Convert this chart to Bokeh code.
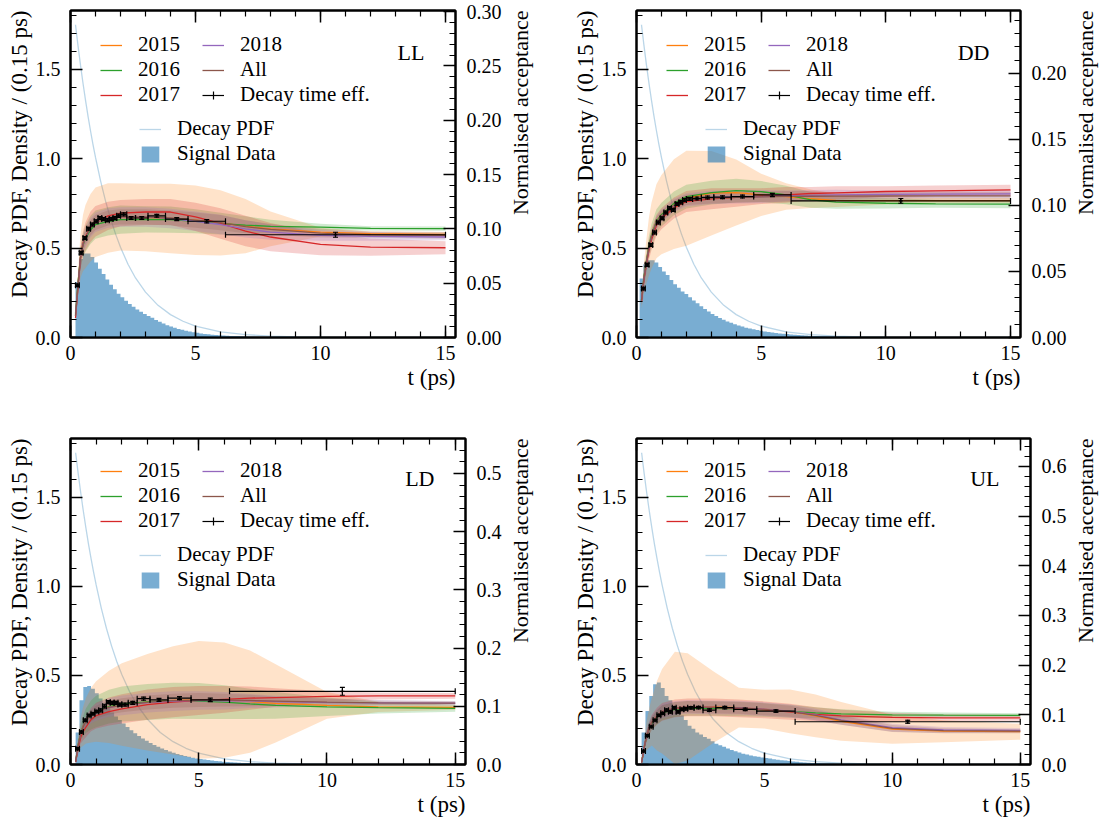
import math
import numpy as np
from bokeh.plotting import figure
from bokeh.models import (Range1d, LinearAxis, SingleIntervalTicker, PrintfTickFormatter,
                          Legend, LegendItem, Label, Title, ColumnDataSource)
from bokeh.layouts import row, column
from bokeh.embed import file_html
from bokeh.resources import INLINE

FONT = "Liberation Serif"

# ---------------------------------------------------------------- data
years = ["2015", "2016", "2017", "2018", "All"]
year_colors = ["#ff7f0e", "#2ca02c", "#d62728", "#9467bd", "#8c564b"]

# knots (ps) at which the acceptance curves / bands were read
t_knots = [0.2, 0.3, 0.4, 0.5, 0.6, 0.8, 1.0, 1.5, 2.0, 3.0, 4.0, 5.0, 6.0, 7.0, 8.0, 10.0, 12.0, 15.0]

# decay PDF (same in all panels)
pdf_t = [0.2, 0.3, 0.4, 0.5, 0.6, 0.7, 0.8, 0.9, 1.0, 1.2, 1.4, 1.6, 1.8, 2.0, 2.3, 2.6,
         3.0, 3.5, 4.0, 4.5, 5.0, 6.0, 7.0, 8.0, 9.0, 10.0, 12.0, 15.0]
pdf_val = [1.75, 1.633, 1.524, 1.423, 1.328, 1.239, 1.157, 1.080, 1.008, 0.878, 0.765, 0.666,
           0.580, 0.505, 0.410, 0.333, 0.254, 0.180, 0.128, 0.091, 0.064, 0.032, 0.016, 0.008,
           0.004, 0.002, 0.0005, 0.0]

hist_width = 0.15

# decay-time efficiency bins
eff_edges = [0.2, 0.35, 0.5, 0.65, 0.8, 0.95, 1.1, 1.25, 1.4, 1.55, 1.7, 1.85, 2.0, 2.25,
             2.6, 3.1, 3.8, 4.7, 6.2, 15.0]

# ---- LL
LL_hist_start = 0.2
LL_hist = [0.31, 0.44, 0.47, 0.47, 0.45, 0.42, 0.385, 0.355, 0.325, 0.295, 0.27, 0.245, 0.225,
           0.205, 0.188, 0.172, 0.157, 0.144, 0.132, 0.12, 0.110, 0.098, 0.088, 0.078, 0.069,
           0.061, 0.054, 0.048, 0.043, 0.038, 0.034, 0.030, 0.026, 0.023, 0.020, 0.018, 0.016,
           0.014, 0.012, 0.011, 0.0095, 0.0085, 0.0075, 0.0065, 0.0058, 0.005, 0.0045, 0.004,
           0.0035, 0.003, 0.0027, 0.0024, 0.002, 0.0018, 0.0016, 0.0014, 0.0012, 0.001, 0.001,
           0.0008, 0.0007]
LL_acc_2015 = [0.020, 0.049, 0.075, 0.087, 0.093, 0.101, 0.106, 0.110, 0.111, 0.1105, 0.1095, 0.108, 0.1055, 0.1025, 0.100, 0.097, 0.0955, 0.095]
LL_acc_2016 = [0.022, 0.050, 0.074, 0.085, 0.091, 0.099, 0.104, 0.107, 0.1085, 0.1087, 0.1085, 0.107, 0.1048, 0.1035, 0.1023, 0.1016, 0.1005, 0.1002]
LL_acc_2017 = [0.018, 0.046, 0.073, 0.086, 0.093, 0.102, 0.107, 0.112, 0.1145, 0.1155, 0.1155, 0.111, 0.105, 0.098, 0.0925, 0.0857, 0.0832, 0.0826]
LL_acc_2018 = [0.020, 0.048, 0.074, 0.086, 0.092, 0.101, 0.106, 0.110, 0.111, 0.111, 0.1095, 0.107, 0.104, 0.100, 0.097, 0.094, 0.093, 0.0925]
LL_acc_All = [0.020, 0.048, 0.074, 0.086, 0.0925, 0.101, 0.106, 0.110, 0.111, 0.111, 0.110, 0.108, 0.1057, 0.102, 0.0995, 0.096, 0.0946, 0.094]
LL_err_2015 = [0.005, 0.012, 0.02, 0.026, 0.029, 0.031, 0.032, 0.032, 0.031, 0.031, 0.032, 0.032, 0.030, 0.025, 0.016, 0.004, 0.002, 0.002]
LL_err_2016 = [0.003, 0.006, 0.009, 0.011, 0.012, 0.013, 0.013, 0.013, 0.013, 0.012, 0.012, 0.011, 0.010, 0.008, 0.006, 0.003, 0.002, 0.002]
LL_err_2017 = [0.003, 0.007, 0.010, 0.012, 0.013, 0.014, 0.014, 0.013, 0.012, 0.012, 0.012, 0.013, 0.014, 0.014, 0.013, 0.010, 0.008, 0.006]
LL_err_2018 = [0.002, 0.005, 0.007, 0.008, 0.009, 0.009, 0.009, 0.009, 0.009, 0.009, 0.009, 0.009, 0.009, 0.008, 0.007, 0.005, 0.004, 0.003]
LL_err_All = [0.002, 0.004, 0.006, 0.007, 0.007, 0.007, 0.007, 0.007, 0.007, 0.007, 0.007, 0.007, 0.007, 0.006, 0.005, 0.004, 0.003, 0.003]
LL_eff = [0.048, 0.078, 0.0915, 0.100, 0.104, 0.107, 0.110, 0.109, 0.108, 0.109, 0.110, 0.112, 0.1134, 0.110, 0.110, 0.112, 0.109, 0.107, 0.0946]
LL_eff_err = [0.0012, 0.0013, 0.0013, 0.0013, 0.0013, 0.0014, 0.0014, 0.0014, 0.0014, 0.0015, 0.0015, 0.0015, 0.0014, 0.0013, 0.0013, 0.0013, 0.0014, 0.0015, 0.0023]

# ---- DD
DD_hist_start = 0.125
DD_hist = [0.33, 0.41, 0.433, 0.433, 0.42, 0.395, 0.37, 0.35, 0.322, 0.298, 0.278, 0.258, 0.243,
           0.225, 0.207, 0.192, 0.175, 0.16, 0.145, 0.132, 0.12, 0.109, 0.099, 0.09, 0.082, 0.074,
           0.067, 0.061, 0.055, 0.05, 0.046, 0.042, 0.038, 0.034, 0.031, 0.028, 0.025, 0.023,
           0.021, 0.019, 0.017, 0.015, 0.014, 0.012, 0.011, 0.01, 0.009, 0.008, 0.007, 0.0063,
           0.0056, 0.005, 0.0045, 0.004, 0.0035, 0.003, 0.0027, 0.0024, 0.002, 0.0018, 0.0016,
           0.0014, 0.0012, 0.001]
DD_acc_2015 = [0.028, 0.045, 0.058, 0.069, 0.077, 0.088, 0.093, 0.101, 0.1054, 0.1092, 0.1097, 0.108, 0.1067, 0.105, 0.1038, 0.1036, 0.1036, 0.1036]
DD_acc_2016 = [0.028, 0.046, 0.058, 0.069, 0.077, 0.088, 0.093, 0.1015, 0.1067, 0.1097, 0.1112, 0.1104, 0.1079, 0.1042, 0.1024, 0.1016, 0.1012, 0.1009]
DD_acc_2017 = [0.027, 0.044, 0.056, 0.066, 0.074, 0.085, 0.090, 0.098, 0.1029, 0.1050, 0.106, 0.107, 0.108, 0.109, 0.1095, 0.1105, 0.111, 0.1117]
DD_acc_2018 = [0.028, 0.045, 0.057, 0.068, 0.076, 0.087, 0.092, 0.100, 0.1042, 0.106, 0.1065, 0.1067, 0.1072, 0.1076, 0.1079, 0.1083, 0.1085, 0.1087]
DD_acc_All = [0.028, 0.045, 0.057, 0.068, 0.076, 0.087, 0.092, 0.100, 0.1042, 0.1055, 0.106, 0.1065, 0.1068, 0.1069, 0.107, 0.1071, 0.1072, 0.1072]
DD_err_2015 = [0.006, 0.012, 0.017, 0.022, 0.025, 0.028, 0.030, 0.034, 0.036, 0.032, 0.025, 0.016, 0.010, 0.007, 0.005, 0.003, 0.002, 0.002]
DD_err_2016 = [0.003, 0.005, 0.007, 0.008, 0.009, 0.009, 0.009, 0.009, 0.009, 0.009, 0.009, 0.008, 0.007, 0.006, 0.005, 0.004, 0.003, 0.003]
DD_err_2017 = [0.003, 0.005, 0.006, 0.007, 0.008, 0.008, 0.008, 0.008, 0.008, 0.008, 0.007, 0.006, 0.006, 0.005, 0.005, 0.004, 0.004, 0.004]
DD_err_2018 = [0.002, 0.003, 0.004, 0.005, 0.005, 0.005, 0.005, 0.005, 0.005, 0.005, 0.005, 0.005, 0.004, 0.004, 0.004, 0.003, 0.003, 0.003]
DD_err_All = [0.002, 0.003, 0.004, 0.004, 0.004, 0.004, 0.004, 0.004, 0.004, 0.004, 0.004, 0.004, 0.004, 0.004, 0.003, 0.003, 0.003, 0.003]
DD_eff = [0.037, 0.055, 0.070, 0.0795, 0.087, 0.0903, 0.0946, 0.0979, 0.0966, 0.1011, 0.1024, 0.1040, 0.1049, 0.1052, 0.106, 0.1062, 0.1067, 0.1079, 0.1034]
DD_eff_err = [0.0010, 0.0011, 0.0011, 0.0011, 0.0011, 0.0011, 0.0011, 0.0011, 0.0011, 0.0012, 0.0012, 0.0012, 0.0011, 0.0011, 0.0011, 0.0011, 0.0011, 0.0012, 0.0018]

# ---- LD
LD_hist_start = 0.2
LD_hist = [0.18, 0.36, 0.435, 0.44, 0.425, 0.40, 0.37, 0.345, 0.318, 0.292, 0.27, 0.25, 0.23,
           0.21, 0.192, 0.175, 0.16, 0.146, 0.133, 0.121, 0.11, 0.1, 0.09, 0.081, 0.073, 0.066,
           0.059, 0.053, 0.048, 0.043, 0.038, 0.034, 0.031, 0.028, 0.025, 0.022, 0.02, 0.018,
           0.016, 0.014, 0.0125, 0.011, 0.01, 0.009, 0.008, 0.007, 0.006, 0.0055, 0.005, 0.0045,
           0.004, 0.0035, 0.003, 0.0027, 0.0024, 0.002, 0.0018, 0.0016, 0.0014, 0.0012, 0.001]
LD_acc_2015 = [0.005, 0.034, 0.055, 0.066, 0.075, 0.085, 0.091, 0.099, 0.103, 0.107, 0.110, 0.111, 0.1107, 0.108, 0.105, 0.1015, 0.099, 0.098]
LD_acc_2016 = [0.005, 0.034, 0.055, 0.066, 0.075, 0.085, 0.091, 0.0996, 0.104, 0.1074, 0.1096, 0.109, 0.107, 0.104, 0.1017, 0.0991, 0.0976, 0.0965]
LD_acc_2017 = [0.004, 0.028, 0.047, 0.057, 0.064, 0.077, 0.084, 0.091, 0.0955, 0.1028, 0.107, 0.110, 0.112, 0.114, 0.115, 0.117, 0.1178, 0.118]
LD_acc_2018 = [0.005, 0.033, 0.054, 0.065, 0.074, 0.084, 0.090, 0.098, 0.1017, 0.1064, 0.109, 0.110, 0.1095, 0.109, 0.108, 0.1064, 0.106, 0.1052]
LD_acc_All = [0.005, 0.033, 0.054, 0.065, 0.074, 0.084, 0.090, 0.098, 0.1017, 0.1066, 0.1096, 0.1107, 0.1107, 0.110, 0.109, 0.107, 0.106, 0.1056]
LD_err_2015 = [0.003, 0.016, 0.026, 0.034, 0.039, 0.047, 0.052, 0.062, 0.071, 0.083, 0.093, 0.101, 0.099, 0.088, 0.067, 0.023, 0.009, 0.004]
LD_err_2016 = [0.002, 0.008, 0.013, 0.018, 0.021, 0.025, 0.027, 0.029, 0.030, 0.031, 0.031, 0.031, 0.029, 0.026, 0.023, 0.016, 0.010, 0.006]
LD_err_2017 = [0.002, 0.007, 0.011, 0.015, 0.017, 0.020, 0.022, 0.024, 0.025, 0.026, 0.026, 0.025, 0.023, 0.020, 0.016, 0.009, 0.006, 0.005]
LD_err_2018 = [0.002, 0.005, 0.008, 0.010, 0.011, 0.013, 0.015, 0.016, 0.017, 0.017, 0.017, 0.016, 0.015, 0.012, 0.010, 0.007, 0.005, 0.004]
LD_err_All = [0.001, 0.004, 0.006, 0.008, 0.009, 0.010, 0.011, 0.012, 0.012, 0.012, 0.012, 0.012, 0.011, 0.010, 0.008, 0.006, 0.004, 0.003]
LD_eff = [0.027, 0.056, 0.076, 0.084, 0.087, 0.091, 0.093, 0.100, 0.107, 0.106, 0.106, 0.103, 0.103, 0.106, 0.113, 0.111, 0.114, 0.111, 0.1257]
LD_eff_err = [0.002, 0.002, 0.002, 0.002, 0.002, 0.002, 0.0026, 0.0026, 0.0026, 0.0026, 0.0026, 0.0026, 0.0026, 0.0026, 0.0026, 0.0026, 0.0026, 0.003, 0.0067]

# ---- UL
UL_hist_start = 0.2
UL_hist = [0.18, 0.30, 0.385, 0.45, 0.46, 0.43, 0.385, 0.36, 0.33, 0.30, 0.275, 0.25, 0.218,
           0.2, 0.18, 0.168, 0.155, 0.144, 0.13, 0.117, 0.108, 0.099, 0.09, 0.082, 0.074, 0.067,
           0.061, 0.056, 0.051, 0.047, 0.043, 0.039, 0.036, 0.033, 0.03, 0.027, 0.024, 0.022,
           0.019, 0.017, 0.015, 0.013, 0.011, 0.01, 0.009, 0.008, 0.007, 0.006, 0.0055, 0.005,
           0.0045, 0.004, 0.0035, 0.003, 0.0027, 0.0024, 0.002, 0.0018, 0.0016, 0.0014, 0.0012, 0.001]
UL_acc_2015 = [0.004, 0.035, 0.059, 0.074, 0.086, 0.098, 0.107, 0.114, 0.116, 0.1155, 0.1145, 0.1115, 0.107, 0.098, 0.087, 0.071, 0.067, 0.066]
UL_acc_2016 = [0.004, 0.034, 0.057, 0.072, 0.083, 0.095, 0.104, 0.111, 0.113, 0.113, 0.112, 0.110, 0.107, 0.104, 0.102, 0.100, 0.0995, 0.099]
UL_acc_2017 = [0.004, 0.034, 0.058, 0.073, 0.085, 0.097, 0.106, 0.113, 0.115, 0.115, 0.113, 0.110, 0.106, 0.101, 0.098, 0.095, 0.094, 0.094]
UL_acc_2018 = [0.004, 0.035, 0.059, 0.074, 0.086, 0.098, 0.107, 0.114, 0.116, 0.115, 0.1145, 0.1115, 0.1075, 0.100, 0.090, 0.074, 0.0695, 0.0685]
UL_acc_All = [0.004, 0.035, 0.059, 0.074, 0.086, 0.098, 0.107, 0.114, 0.116, 0.115, 0.114, 0.111, 0.107, 0.099, 0.089, 0.0725, 0.068, 0.067]
UL_err_2015 = [0.003, 0.015, 0.03, 0.04, 0.048, 0.07, 0.085, 0.113, 0.108, 0.072, 0.04, 0.039, 0.044, 0.043, 0.039, 0.029, 0.022, 0.016]
UL_err_2016 = [0.002, 0.006, 0.009, 0.011, 0.012, 0.014, 0.015, 0.015, 0.015, 0.015, 0.015, 0.014, 0.013, 0.011, 0.009, 0.006, 0.005, 0.004]
UL_err_2017 = [0.002, 0.007, 0.011, 0.013, 0.015, 0.017, 0.018, 0.018, 0.018, 0.018, 0.018, 0.017, 0.016, 0.014, 0.012, 0.009, 0.007, 0.006]
UL_err_2018 = [0.002, 0.006, 0.009, 0.011, 0.012, 0.013, 0.014, 0.014, 0.014, 0.014, 0.014, 0.014, 0.013, 0.012, 0.01, 0.008, 0.006, 0.005]
UL_err_All = [0.001, 0.005, 0.008, 0.009, 0.01, 0.011, 0.012, 0.012, 0.012, 0.012, 0.012, 0.012, 0.011, 0.01, 0.009, 0.007, 0.005, 0.004]
UL_eff = [0.027, 0.058, 0.076, 0.089, 0.099, 0.103, 0.1094, 0.106, 0.114, 0.106, 0.111, 0.112, 0.114, 0.1145, 0.1094, 0.1145, 0.111, 0.1075, 0.086]
UL_eff_err = [0.002, 0.002, 0.002, 0.002, 0.002, 0.002, 0.0025, 0.0025, 0.0025, 0.0025, 0.0025, 0.0025, 0.0025, 0.0025, 0.0025, 0.0025, 0.0025, 0.0025, 0.003]

# ---------------------------------------------------------------- styling helpers
Y_TOP = 1.83


def style_axis(ax):
    ax.major_tick_in = 12
    ax.major_tick_out = 0
    ax.minor_tick_in = 6
    ax.minor_tick_out = 0
    ax.major_tick_line_width = 1.5
    ax.minor_tick_line_width = 1.2
    ax.major_tick_line_color = "black"
    ax.minor_tick_line_color = "black"
    ax.axis_line_width = 2
    ax.axis_line_color = "black"
    ax.major_label_text_font = FONT
    ax.major_label_text_font_size = "20px"
    ax.major_label_text_color = "black"


def make_panel(tag, xmax, acc_top, acc_interval, acc_fmt, hist_start, hist_vals,
               acc, err, eff, eff_err, width, height, bl, br, bt, bb):
    frame_h = height - bt - bb
    p = figure(width=width, height=height, x_range=Range1d(0, xmax), y_range=Range1d(0, Y_TOP),
               output_backend="svg", toolbar_location=None,
               min_border_left=bl, min_border_right=br, min_border_top=bt, min_border_bottom=bb)
    p.extra_y_ranges = {"acc": Range1d(0, acc_top)}
    p.xgrid.visible = False
    p.ygrid.visible = False
    p.outline_line_color = "black"
    p.outline_line_width = 2
    p.background_fill_color = "white"
    p.border_fill_color = "white"

    xa = p.xaxis[0]
    xa.ticker = SingleIntervalTicker(interval=5, num_minor_ticks=5)
    style_axis(xa)
    xa.major_label_standoff = 8

    ya = p.yaxis[0]
    ya.ticker = SingleIntervalTicker(interval=0.5, num_minor_ticks=5)
    ya.formatter = PrintfTickFormatter(format="%.1f")
    style_axis(ya)
    ya.major_label_standoff = 10

    top = LinearAxis(ticker=SingleIntervalTicker(interval=5, num_minor_ticks=5))
    style_axis(top)
    top.major_label_text_font_size = "1px"
    top.major_label_text_color = None
    top.major_label_standoff = 0
    p.add_layout(top, "above")

    ra = LinearAxis(y_range_name="acc",
                    ticker=SingleIntervalTicker(interval=acc_interval, num_minor_ticks=5),
                    formatter=PrintfTickFormatter(format=acc_fmt))
    style_axis(ra)
    ra.major_label_standoff = 11
    p.add_layout(ra, "right")

    # axis titles placed at the far end of the axes
    p.add_layout(Title(text="t (ps)", align="right", text_font=FONT, text_font_size="23px",
                       text_font_style="normal", text_color="black", standoff=0, offset=0),
                 "below")
    p.add_layout(Title(text="Decay PDF, Density / (0.15 ps)", align="right", text_font=FONT,
                       text_font_size="23px", text_font_style="normal", text_color="black",
                       standoff=2, offset=0), "left")

    # histogram (step filled)
    edges = hist_start + hist_width * np.arange(len(hist_vals) + 1)
    hx = np.repeat(edges, 2)[1:-1]
    hy = np.repeat(np.array(hist_vals), 2)
    r_hist = p.varea(x=hx, y1=0, y2=hy, fill_color="#1f77b4", fill_alpha=0.6)

    # decay pdf
    r_pdf = p.line(pdf_t, pdf_val, line_color="#1f77b4", line_alpha=0.3, line_width=1.3)

    # acceptance bands then curves
    tk = np.array(t_knots)
    for y, c in zip(years, year_colors):
        a = np.array(acc[y])
        e = np.array(err[y])
        p.varea(x=tk, y1=np.clip(a - e, 0, None), y2=a + e, y_range_name="acc",
                fill_color=c, fill_alpha=0.22)
    line_r = {}
    for y, c in zip(years, year_colors):
        line_r[y] = p.line(tk, acc[y], y_range_name="acc", line_color=c, line_width=1.3)

    # decay-time efficiency points (error bars with caps, no marker)
    ed = np.array(eff_edges)
    cen = 0.5 * (ed[:-1] + ed[1:])
    ev = np.array(eff)
    ee = np.array(eff_err)
    src = ColumnDataSource(dict(x=cen, y=ev, xl=ed[:-1], xu=ed[1:], yl=ev - ee, yu=ev + ee))
    kw = dict(source=src, y_range_name="acc", line_color="black", line_width=1.2)
    r_xbar = p.segment(x0="xl", y0="y", x1="xu", y1="y", **kw)
    p.segment(x0="x", y0="yl", x1="x", y1="yu", **kw)
    p.scatter(x="xl", y="y", marker="dash", angle=math.pi / 2, size=6, **kw)
    p.scatter(x="xu", y="y", marker="dash", angle=math.pi / 2, size=6, **kw)
    p.scatter(x="x", y="yl", marker="dash", size=5, **kw)
    p.scatter(x="x", y="yu", marker="dash", size=5, **kw)
    r_cross = p.scatter(x="x", y="y", marker="cross", size=4, **kw)

    def add_legend(items, fx, top_off):
        n = len(items)
        h = n * 23
        leg = Legend(items=items, location=(fx, frame_h - top_off - h),
                     border_line_color=None, background_fill_alpha=0.0,
                     padding=0, margin=0, spacing=0, label_height=23, glyph_height=20,
                     glyph_width=22, label_standoff=16,
                     label_text_font=FONT, label_text_font_size="21px",
                     label_text_color="black")
        p.add_layout(leg, "center")

    add_legend([LegendItem(label=y, renderers=[line_r[y]]) for y in years[:3]], 30, 28)
    add_legend([LegendItem(label="2018", renderers=[line_r["2018"]]),
                LegendItem(label="All", renderers=[line_r["All"]]),
                LegendItem(label="Decay time eff.", renderers=[r_xbar, r_cross])], 132, 28)
    add_legend([LegendItem(label="Decay PDF", renderers=[r_pdf]),
                LegendItem(label="Signal Data", renderers=[r_hist])], 69, 110)

    frame_w = width - bl - br
    p.add_layout(Label(x=frame_w - 31, y=frame_h - 42, x_units="screen", y_units="screen",
                       text=tag, text_font=FONT, text_font_size="22px", text_color="black",
                       text_align="right", text_baseline="middle"))
    return p


def right_title(width, height, bt, bb):
    """Narrow strip whose left-side title is the right-hand axis title (reads upwards)."""
    f = figure(width=width, height=height, x_range=Range1d(0, 1), y_range=Range1d(0, 1),
               output_backend="svg", toolbar_location=None, x_axis_location=None,
               y_axis_location=None, min_border_left=0, min_border_right=0,
               min_border_top=bt, min_border_bottom=bb, outline_line_color=None,
               title_location=None)
    f.xgrid.visible = False
    f.ygrid.visible = False
    f.border_fill_color = "white"
    f.background_fill_color = "white"
    f.add_layout(Title(text="Normalised acceptance", align="right", text_font=FONT,
                       text_font_size="22px", text_font_style="normal", text_color="black",
                       standoff=0, offset=0), "left")
    return f


acc_LL = dict(zip(years, [LL_acc_2015, LL_acc_2016, LL_acc_2017, LL_acc_2018, LL_acc_All]))
err_LL = dict(zip(years, [LL_err_2015, LL_err_2016, LL_err_2017, LL_err_2018, LL_err_All]))
acc_DD = dict(zip(years, [DD_acc_2015, DD_acc_2016, DD_acc_2017, DD_acc_2018, DD_acc_All]))
err_DD = dict(zip(years, [DD_err_2015, DD_err_2016, DD_err_2017, DD_err_2018, DD_err_All]))
acc_LD = dict(zip(years, [LD_acc_2015, LD_acc_2016, LD_acc_2017, LD_acc_2018, LD_acc_All]))
err_LD = dict(zip(years, [LD_err_2015, LD_err_2016, LD_err_2017, LD_err_2018, LD_err_All]))
acc_UL = dict(zip(years, [UL_acc_2015, UL_acc_2016, UL_acc_2017, UL_acc_2018, UL_acc_All]))
err_UL = dict(zip(years, [UL_err_2015, UL_err_2016, UL_err_2017, UL_err_2018, UL_err_All]))

# row 1: frames at x 70-455 and 636-1020, y 10-337
p1 = make_panel("LL", 15.4, 0.301, 0.05, "%.2f", LL_hist_start, LL_hist, acc_LL, err_LL,
                LL_eff, LL_eff_err, 505, 428, 70, 50, 10, 91)
r1 = right_title(31, 428, 10, 91)
p2 = make_panel("DD", 15.4, 0.2475, 0.05, "%.2f", DD_hist_start, DD_hist, acc_DD, err_DD,
                DD_eff, DD_eff_err, 534, 428, 100, 50, 10, 91)
r2 = right_title(31, 428, 10, 91)
# row 2: frames at x 70-465 and 636-1030, y 438-766
p3 = make_panel("LD", 15.4, 0.56, 0.1, "%.1f", LD_hist_start, LD_hist, acc_LD, err_LD,
                LD_eff, LD_eff_err, 505, 396, 70, 40, 10, 58)
r3 = right_title(31, 396, 8, 60)
p4 = make_panel("UL", 15.4, 0.656, 0.1, "%.1f", UL_hist_start, UL_hist, acc_UL, err_UL,
                UL_eff, UL_eff_err, 534, 396, 100, 40, 10, 58)
r4 = right_title(31, 396, 8, 60)

layout = column(row(p1, r1, p2, r2), row(p3, r3, p4, r4))
open("out.html", "w").write(file_html(layout, INLINE))
